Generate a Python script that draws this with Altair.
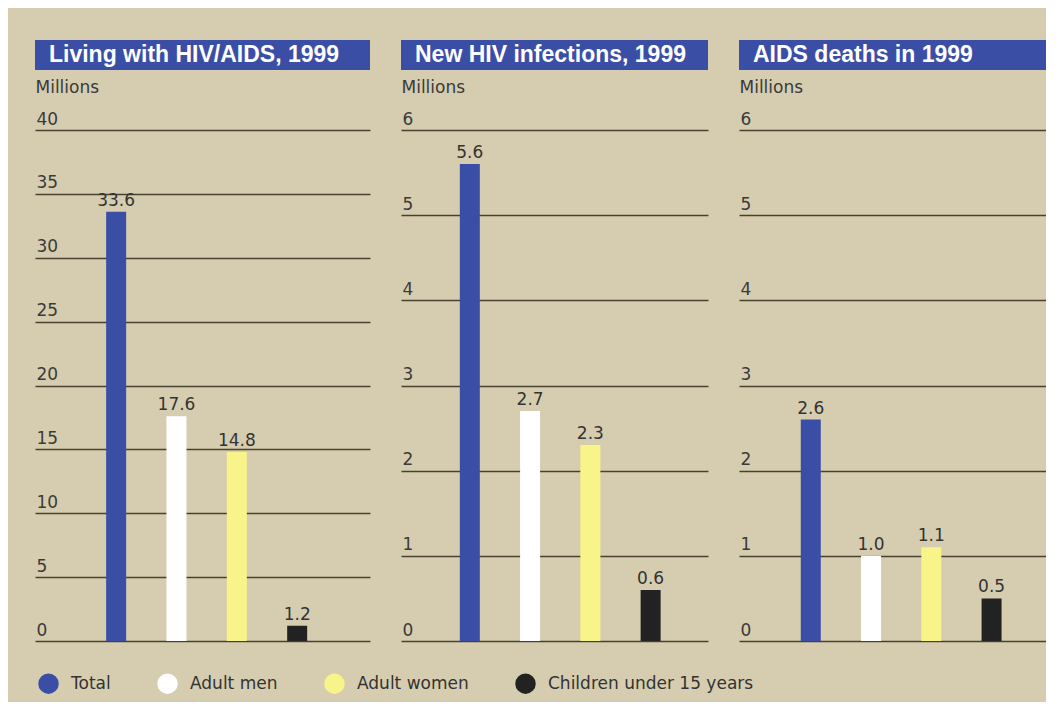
import altair as alt
import pandas as pd

groups = ["Total", "Adult men", "Adult women", "Children under 15 years"]
colors = ["#3b4ea6", "#ffffff", "#f8f48a", "#222222"]
panel_titles = ["Living with HIV/AIDS, 1999", "New HIV infections, 1999", "AIDS deaths in 1999"]
living = [33.6, 17.6, 14.8, 1.2]
new_inf = [5.6, 2.7, 2.3, 0.6]
deaths = [2.6, 1.0, 1.1, 0.5]
series = [living, new_inf, deaths]
y_max = [40, 6, 6]
y_step = [5, 1, 1]
panel_widths = [335, 307, 307]
# x scale domains (bar slot index 0..3) per panel
x_domains = [[-1.262, 4.124], [-1.059, 3.869], [-1.108, 3.820]]

BG = "#d6cdb0"
BLUE = "#3b4ea6"
FONT = "DejaVu Sans"
TXT = "#333333"
H = 511


def panel(i):
    df = pd.DataFrame({"group": groups, "slot": list(range(len(groups))), "value": series[i]})
    W = panel_widths[i]
    base = alt.Chart(df)
    x = alt.X("slot:Q", scale=alt.Scale(domain=x_domains[i], nice=False, zero=False), axis=None)
    y = alt.Y("value:Q",
              scale=alt.Scale(domain=[0, y_max[i]], nice=False, zero=True),
              axis=alt.Axis(values=list(range(0, y_max[i] + 1, y_step[i])), format="d",
                            title="Millions"))
    bars = base.mark_bar(size=20).encode(
        x=x, y=y,
        color=alt.Color("group:N", sort=groups,
                        scale=alt.Scale(domain=groups, range=colors),
                        legend=alt.Legend(title=None)))
    labels = base.mark_text(dy=-6, baseline="alphabetic", align="center",
                            fontSize=17, font=FONT, color=TXT).encode(
        x=x, y="value:Q", text=alt.Text("value:Q", format=".1f"))
    hdata = alt.Data(values=[{"t": panel_titles[i]}])
    box = alt.Chart(hdata).mark_rect(color=BLUE).encode(
        x=alt.value(0), x2=alt.value(W), y=alt.value(-90), y2=alt.value(-60))
    head = alt.Chart(hdata).mark_text(align="left", baseline="middle", font="Liberation Sans",
                                      fontWeight="bold", fontSize=23, color="white").encode(
        x=alt.value(14), y=alt.value(-75), text="t:N")
    return alt.layer(box, head, bars, labels).properties(width=W, height=H)


chart = alt.hconcat(panel(0), panel(1), panel(2), spacing=31, bounds="flush").properties(
    background=BG,
    padding={"left": 27, "top": 32, "right": 0, "bottom": 8},
).configure_view(stroke=None).configure_axis(
    domain=False, ticks=False, tickSize=0,
    grid=True, gridColor="#48412f", gridWidth=1.5, gridOpacity=1,
    labelFont=FONT, labelFontSize=17, labelColor="#3a3a3a",
    labelAlign="left", labelBaseline="alphabetic", labelPadding=-1, labelOffset=-6,
    titleFont=FONT, titleFontSize=17, titleColor="#3a3a3a", titleFontWeight="normal",
    titleAngle=0, titleX=0, titleY=-38, titleAlign="left", titleBaseline="alphabetic",
).configure_legend(
    orient="none", legendX=3, legendY=543, direction="horizontal",
    symbolType="circle", symbolSize=420, symbolStrokeWidth=0, symbolOpacity=1,
    labelFont=FONT, labelFontSize=17, labelColor=TXT, labelOffset=12, labelLimit=400,
    columnPadding=46, padding=0,
)

chart.save("out.html", embed_options={"renderer": "svg", "actions": False})
